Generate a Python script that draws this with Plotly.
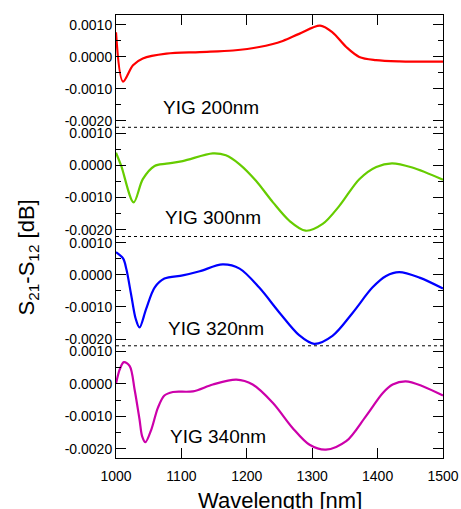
import plotly.graph_objects as go

# ---- data (wavelength nm, S21-S12 dB) ----
wl_200 = [1000, 1010.7, 1026, 1041, 1077, 1128, 1179, 1219, 1255, 1280, 1312, 1331, 1352, 1372, 1397.5, 1433, 1500]
val_200 = [0.00077, -0.00077, -0.00026, -0.00005, 0.0001, 0.00015, 0.0002, 0.00031, 0.0005, 0.00072, 0.00098,
           0.00077, 0.00031, 0.0, -0.0001, -0.00014, -0.00015]

wl_300 = [1000, 1008, 1027, 1041, 1059, 1077, 1102, 1148, 1168, 1189, 1214, 1240, 1265, 1290, 1316, 1341.5,
          1372, 1398, 1422, 1453, 1500]
val_300 = [0.00039, -0.00002, -0.00115, -0.00043, -0.00002, 0.00005, 0.00013, 0.00037, 0.00031, 0.00003,
           -0.00048, -0.00115, -0.00172, -0.00203, -0.00182, -0.00126, -0.00043, -0.00005, 0.00006, -0.00007, -0.00045]

wl_320 = [1000, 1011, 1016, 1023.5, 1030, 1036, 1046, 1059, 1074, 1102, 1128, 1163, 1189, 1219, 1250, 1280,
          1303, 1331, 1362, 1392, 1413, 1433, 1464, 1500]
val_320 = [0.0007, 0.0005, 0.00016, -0.00066, -0.00136, -0.00164, -0.00107, -0.0004, -0.00012, -0.00002,
           0.00011, 0.00032, 0.00019, -0.0004, -0.00118, -0.00188, -0.00215, -0.0019, -0.00118, -0.0004,
           -0.00004, 0.00008, -0.00009, -0.00043]

wl_340 = [1000, 1005.6, 1012, 1021, 1028.5, 1036, 1040, 1045, 1054, 1064, 1074, 1087, 1117.6, 1148, 1184,
          1209, 1240, 1270, 1296, 1321, 1352, 1382, 1408, 1423, 1443, 1469, 1500]
val_340 = [0.0, 0.00044, 0.00067, 0.00055, -0.00018, -0.0011, -0.00162, -0.0018, -0.00141, -0.00074,
           -0.00036, -0.00025, -0.00023, -0.00002, 0.00013, -0.00002, -0.00059, -0.00136, -0.00188, -0.00203,
           -0.00177, -0.001, -0.00028, -0.00002, 0.00008, -0.00007, -0.00036]

labels = ["YIG 200nm", "YIG 300nm", "YIG 320nm", "YIG 340nm"]
colors = ["#ff0000", "#66cc00", "#0000ff", "#cc00aa"]
y_ticks = [0.001, 0.0, -0.001, -0.002]
y_tick_text = ["0.0010", "0.0000", "-0.0010", "-0.0020"]
x_ticks = [1000, 1100, 1200, 1300, 1400, 1500]

series = [(wl_200, val_200), (wl_300, val_300), (wl_320, val_320), (wl_340, val_340)]
domains = [[0.7465, 1.0], [0.5, 0.7465], [0.2533, 0.5], [0.0, 0.2533]]
ranges = [[-0.0022, 0.00131], [-0.00221, 0.00118], [-0.00221, 0.00119], [-0.002287, 0.001176]]
label_pos = [(1069, -0.00157), (1072, -0.00161), (1077, -0.00166), (1080, -0.00163)]

font_family = "Liberation Sans, Arial, sans-serif"
fig = go.Figure()
for i, ((x, y), c) in enumerate(zip(series, colors)):
    n = "" if i == 0 else str(i + 1)
    fig.add_trace(go.Scatter(x=x, y=y, mode="lines", line=dict(color=c, width=2.2, shape="spline", smoothing=0.9),
                             xaxis="x" + n, yaxis="y" + n, showlegend=False, hoverinfo="skip"))
    fig.layout["yaxis" + n] = dict(
        domain=domains[i], range=ranges[i], anchor="x" + n, automargin=False,
        tickvals=y_ticks, ticktext=y_tick_text, ticks="inside", ticklen=10, tickwidth=1, tickcolor="black",
        minor=dict(ticks="inside", ticklen=5, dtick=0.0005, tick0=0, tickcolor="black", tickwidth=1, showgrid=False),
        showline=True, linecolor="black", linewidth=1, mirror="ticks",
        showgrid=False, zeroline=False, tickfont=dict(family=font_family, size=14, color="black"),
    )
    xa = dict(range=[1000, 1500], anchor="y" + n, showgrid=False, zeroline=False, tickvals=x_ticks,
              automargin=False, ticks="inside", ticklen=10, tickwidth=1, tickcolor="black",
              showline=False, tickfont=dict(family=font_family, size=14, color="black"))
    if i == 0:
        xa.update(side="top", showticklabels=False, showline=True, linecolor="black", linewidth=1)
    elif i == 3:
        xa.update(side="bottom", showticklabels=True, showline=True, linecolor="black", linewidth=1,
                  ticklabelstandoff=5)
    else:
        xa.update(visible=False)
    if i > 0:
        xa["matches"] = "x"
    fig.layout["xaxis" + n] = xa
    lx, ly = label_pos[i]
    fig.add_annotation(x=lx, y=ly, xref="x" + n, yref="y" + n, text=labels[i], showarrow=False,
                       xanchor="left", yanchor="middle", font=dict(family=font_family, size=19, color="black"))

for yb in [0.7465, 0.5, 0.2533]:
    fig.add_shape(type="line", xref="paper", yref="paper", x0=0, x1=1, y0=yb, y1=yb,
                  line=dict(color="black", width=1, dash="3px,3px"))

fig.add_annotation(text="Wavelength [nm]", xref="paper", yref="paper", x=0.5, y=-0.095,
                   showarrow=False, xanchor="center", yanchor="middle",
                   font=dict(family=font_family, size=22, color="black"))
fig.add_annotation(text="S<sub>21</sub>-S<sub>12</sub> [dB]", xref="paper", yref="paper", x=-0.27, y=0.452,
                   textangle=-90, showarrow=False, xanchor="center", yanchor="middle",
                   font=dict(family=font_family, size=22, color="black"))

fig.update_layout(width=461, height=509, margin=dict(l=116, r=18, t=15, b=51, autoexpand=False),
                  paper_bgcolor="white", plot_bgcolor="white")
fig.write_html("out.html")
